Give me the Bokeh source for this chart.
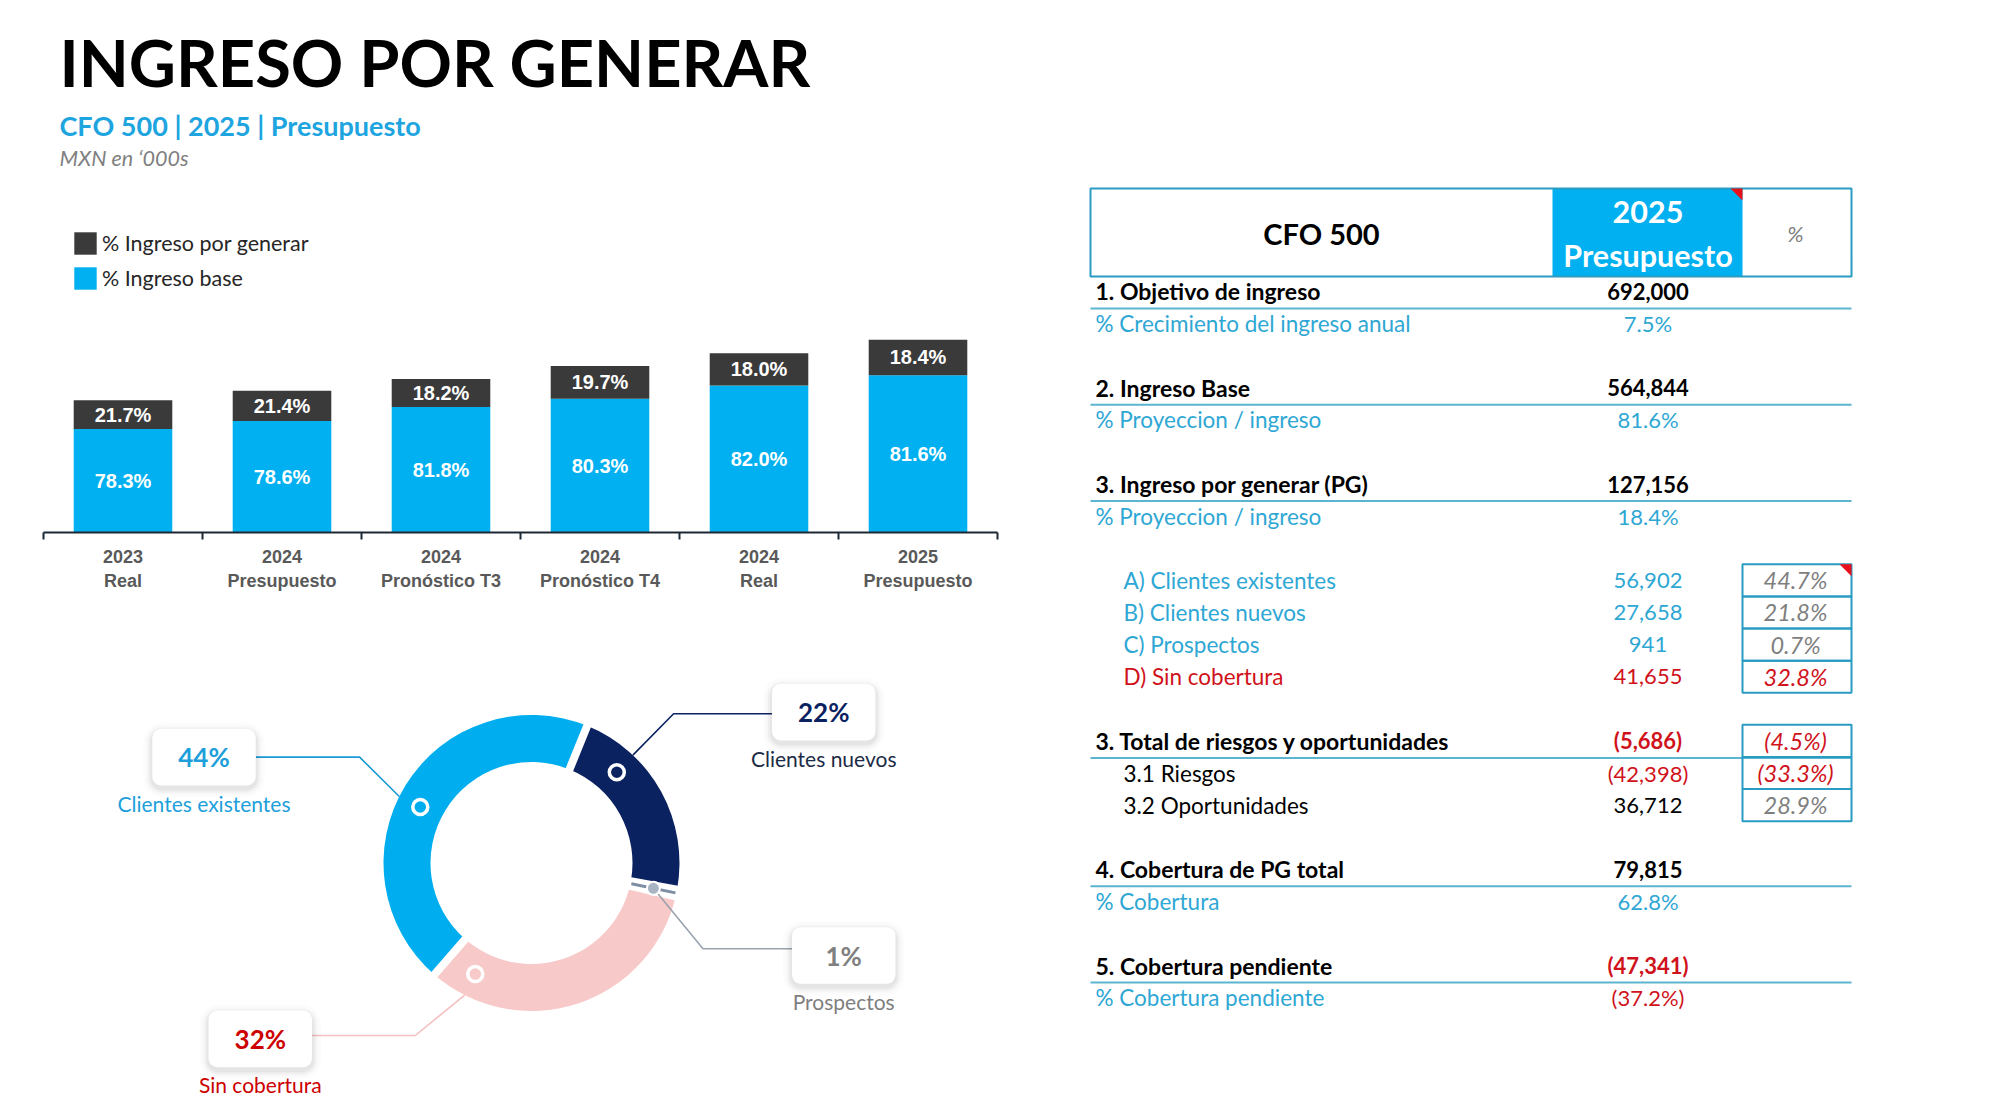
import numpy as np
from bokeh.plotting import figure
from bokeh.models import Range1d, FixedTicker, Legend, LegendItem, ColumnDataSource
from bokeh.layouts import column, row
from bokeh.embed import file_html
from bokeh.resources import INLINE
from bokeh.core.properties import value, field

# ---------------- DATA ----------------
title_text = "INGRESO POR GENERAR"
subtitle_text = "CFO 500 | 2025 | Presupuesto"
units_text = "MXN en \u2018000s"

bar_years = ["2023", "2024", "2024", "2024", "2024", "2025"]
bar_kinds = ["Real", "Presupuesto", "Pronóstico T3", "Pronóstico T4", "Real", "Presupuesto"]
bar_totals = [475000, 509000, 551000, 598000, 643700, 692000]
pct_base = [78.3, 78.6, 81.8, 80.3, 82.0, 81.6]
pct_por_generar = [21.7, 21.4, 18.2, 19.7, 18.0, 18.4]
legend_names = ["% Ingreso por generar", "% Ingreso base"]

donut_names = ["Clientes existentes", "Clientes nuevos", "Prospectos", "Sin cobertura"]
donut_amounts = [56902, 27658, 941, 41655]
donut_shown_pct = [44, 22, 1, 32]

table_title = "CFO 500"
table_col_year = "2025"
table_col_name = "Presupuesto"
table_col_pct = "%"
table_row_index = [0, 1, 3, 4, 6, 7, 9, 10, 11, 12, 14, 15, 16, 18, 19, 21, 22]
table_labels = ["1. Objetivo de ingreso", "% Crecimiento del ingreso anual",
                "2. Ingreso Base", "% Proyeccion / ingreso",
                "3. Ingreso por generar (PG)", "% Proyeccion / ingreso",
                "A) Clientes existentes", "B) Clientes nuevos", "C) Prospectos", "D) Sin cobertura",
                "3. Total de riesgos y oportunidades", "3.1 Riesgos", "3.2 Oportunidades",
                "4. Cobertura de PG total", "% Cobertura",
                "5. Cobertura pendiente", "% Cobertura pendiente"]
table_values = [692000, 7.5, 564844, 81.6, 127156, 18.4, 56902, 27658, 941, 41655,
                -5686, -42398, 36712, 79815, 62.8, -47341, -37.2]
table_value_is_pct = [False, True, False, True, False, True, False, False, False, False,
                      False, False, False, False, True, False, True]
table_share = [None, None, None, None, None, None, 44.7, 21.8, 0.7, 32.8,
               -4.5, -33.3, 28.9, None, None, None, None]

# ---------------- STYLE ----------------
CYAN = "#00b0f0"
DARK = "#3a3a3a"
TEAL = "#2ea7d4"
RED = "#d0121b"
GRAY = "#7f7f7f"
LINE = "#5bb5d0"
BOX = "#2a9bc2"
NAVY = "#0b2261"
FONT = "Lato"
table_row_kind = ["h", "s", "h", "s", "h", "s", "i", "i", "i", "r", "h", "b", "b", "h", "s", "h", "s"]


def blank(w, h, xr, yr, **kw):
    opts = dict(min_border=0)
    opts.update(kw)
    p = figure(width=w, height=h, x_range=xr, y_range=yr, output_backend="svg",
               toolbar_location=None, **opts)
    p.axis.visible = False
    p.grid.visible = False
    p.outline_line_color = None
    p.background_fill_color = "white"
    p.border_fill_color = "white"
    return p


def fmt(v, pct):
    s = f"{abs(v):.1f}%" if pct else f"{abs(v):,.0f}"
    return f"({s})" if v < 0 else s


# ---------------- TITLE ----------------
pt_title = blank(2000, 178, Range1d(0, 2000), Range1d(178, 0))
pt_title.text(x=[59], y=[61], text=[title_text], text_font=value(FONT), text_font_style="bold",
              text_font_size="65px", text_color="black", text_baseline="middle")
pt_title.text(x=[59], y=[125], text=[subtitle_text], text_font=value(FONT), text_font_style="bold",
              text_font_size="27px", text_color="#1ea5df", text_baseline="middle")
pt_title.text(x=[59], y=[157], text=[units_text], text_font=value(FONT), text_font_style="italic",
              text_font_size="21.5px", text_color=GRAY, text_baseline="middle")

# ---------------- BAR CHART ----------------
n = len(bar_totals)
centers = [i + 0.5 for i in range(n)]
base_vals = [t * b / 100 for t, b in zip(bar_totals, pct_base)]
pg_vals = [t * g / 100 for t, g in zip(bar_totals, pct_por_generar)]
src = ColumnDataSource(dict(x=centers, base=base_vals, pg=pg_vals))

pb = figure(width=1078, height=440, x_range=Range1d(0, n), y_range=Range1d(0, 1192000),
            output_backend="svg", toolbar_location=None,
            min_border_left=43, min_border_right=81, min_border_top=22, min_border_bottom=86)
pb.grid.visible = False
pb.yaxis.visible = False
pb.outline_line_color = None
rs = pb.vbar_stack(["base", "pg"], x="x", width=0.62, source=src,
                   fill_color=[CYAN, DARK], line_color=None)

lab_src = ColumnDataSource(dict(
    x=centers + centers,
    y=[b / 2 for b in base_vals] + [b + g / 2 for b, g in zip(base_vals, pg_vals)],
    t=[f"{v:.1f}%" for v in pct_base] + [f"{v:.1f}%" for v in pct_por_generar]))
pb.text(x="x", y="y", text="t", source=lab_src, text_font=value("Liberation Sans"),
        text_font_style="bold", text_font_size="20px", text_color="white",
        text_align="center", text_baseline="middle")

ax = pb.xaxis[0]
ax.ticker = FixedTicker(ticks=centers, minor_ticks=list(range(n + 1)))
ax.major_label_overrides = {c: f"{y}\n{k}" for c, y, k in zip(centers, bar_years, bar_kinds)}
ax.axis_line_color = "#1c2833"
ax.axis_line_width = 2
ax.major_tick_out = 0
ax.major_tick_in = 0
ax.major_tick_line_color = None
ax.minor_tick_line_color = "#1c2833"
ax.minor_tick_line_width = 2
ax.minor_tick_out = 7
ax.minor_tick_in = 0
ax.major_label_standoff = 7
ax.major_label_text_font = "Liberation Sans"
ax.major_label_text_font_style = "bold"
ax.major_label_text_font_size = "18px"
ax.major_label_text_color = "#595959"

legend = Legend(items=[LegendItem(label=legend_names[0], renderers=[rs[1]]),
                       LegendItem(label=legend_names[1], renderers=[rs[0]])],
                location=(28, 240), glyph_width=28, glyph_height=28, label_height=28,
                spacing=7, padding=0, margin=0, label_standoff=3,
                label_text_font=FONT, label_text_font_size="21.5px", label_text_color="#262626",
                border_line_color=None, background_fill_alpha=0)
pb.add_layout(legend)

# ---------------- DONUT ----------------
DONUT_START = 221.0
R_IN, R_OUT, R_MID = 101, 148, 124.5
seg_colors = ["#00aeef", NAVY, "#8ea0b4", "#f8c9c9"]
marker_frac = [0.47, 0.27, 0.5, 0.88]
label_box_center = [(-327.5, 105.9), (292.2, 150.9), (312.2, -92.5), (-271.2, -175.9)]
leader_elbow = [(-171.9, 105.9), (142.1, 149.2), (171.5, -85.8), (-116.2, -172.5)]
leader_colors = ["#1a9ad6", NAVY, "#9aa3ad", "#f4c0c0"]
pct_colors = ["#1e9fdb", NAVY, GRAY, "#cc0000"]
name_colors = ["#1e9fdb", "#1c2b45", GRAY, "#cc0000"]
BOX_W, BOX_H = 103.5, 56.7

# frame spans page x 43..997 (aligned with bar chart), y 618..1096
pdn = blank(1078, 478, Range1d(-488, 466), Range1d(-233.5, 244.5),
            min_border_left=43, min_border_right=81, min_border_top=0, min_border_bottom=0)
amts = np.array(donut_amounts, float)
fr = amts / amts.sum()
cum = np.concatenate([[0.0], np.cumsum(fr)])
a0 = DONUT_START + 360 * cum[:-1]
a1 = DONUT_START + 360 * cum[1:]


def std(a):
    return np.deg2rad(90 - np.asarray(a))


def polar(r, a):
    a = np.deg2rad(np.asarray(a))
    return r * np.sin(a), r * np.cos(a)


pdn.annular_wedge(x=0, y=0, inner_radius=R_IN, outer_radius=R_OUT,
                  start_angle=std(a0), end_angle=std(a1), direction="clock",
                  fill_color=seg_colors, line_color=None)
rx0, ry0 = polar(R_IN - 3, a0)
rx1, ry1 = polar(R_OUT + 3, a0)
pdn.segment(x0=rx0, y0=ry0, x1=rx1, y1=ry1, line_color="white", line_width=8)
mid_p = (a0[2] + a1[2]) / 2
px0, py0 = polar(R_IN + 1, mid_p)
px1, py1 = polar(R_OUT - 1, mid_p)
pdn.segment(x0=[px0], y0=[py0], x1=[px1], y1=[py1], line_color="#7d8ea3", line_width=3)

mk_ang = a0 + np.array(marker_frac) * (a1 - a0)
mx, my = polar(R_MID, mk_ang)
ox, oy = polar(R_OUT, mk_ang)

# leaders
for i in range(4):
    sx, sy = (mx[i], my[i]) if i == 2 else (ox[i], oy[i])
    ex, ey = leader_elbow[i]
    bx, by = label_box_center[i]
    edge = bx + BOX_W / 2 if bx < 0 else bx - BOX_W / 2
    pdn.line(x=[sx, ex, edge], y=[sy, ey, ey], line_color=leader_colors[i], line_width=1.6)

ring_idx = [0, 1, 3]
pdn.scatter(x=[mx[i] for i in ring_idx], y=[my[i] for i in ring_idx], size=15,
            fill_color=[seg_colors[i] for i in ring_idx], line_color="white", line_width=3.5)
pdn.scatter(x=[mx[2]], y=[my[2]], size=13, fill_color="#a9b5c3", line_color="white", line_width=2)

# label boxes
bxs = np.array([c[0] for c in label_box_center])
bys = np.array([c[1] for c in label_box_center])
for grow, alpha in [(9, 0.012), (6, 0.02), (4, 0.03), (2, 0.04)]:
    pdn.quad(left=bxs - BOX_W / 2 - grow, right=bxs + BOX_W / 2 + grow,
             top=bys + BOX_H / 2 + grow - 3, bottom=bys - BOX_H / 2 - grow - 3,
             fill_color="black", fill_alpha=alpha, line_color=None, border_radius=10 + grow)
pdn.quad(left=bxs - BOX_W / 2, right=bxs + BOX_W / 2, top=bys + BOX_H / 2, bottom=bys - BOX_H / 2,
         fill_color="white", line_color=None, border_radius=9)
pdn.text(x=bxs, y=bys, text=[f"{v}%" for v in donut_shown_pct], text_font=value(FONT),
         text_font_style="bold", text_font_size="26px", text_color=pct_colors,
         text_align="center", text_baseline="middle")
pdn.text(x=bxs, y=bys - 46, text=donut_names, text_font=value(FONT),
         text_font_size="21px", text_color=name_colors,
         text_align="center", text_baseline="middle")

# ---------------- TABLE ----------------
# row k centre at page y = 291 + 32.1 k
ptab = blank(922, 920, Range1d(1078, 2000), Range1d(25.14, -3.52))
X_L, X_R, X_SPLIT = 1090, 1851, 1742
X_BLUE0 = 1552
X_LAB0, X_LAB1 = 1095, 1123
X_VAL, X_PCT = 1647.5, 1795
H_TOP, H_BOT = -3.21, -0.467
kind_x = {"h": X_LAB0, "s": X_LAB0, "i": X_LAB1, "r": X_LAB1, "b": X_LAB1}
kind_color = {"h": "black", "s": TEAL, "i": TEAL, "r": RED, "b": "black"}
kind_style = {"h": "bold", "s": "normal", "i": "normal", "r": "normal", "b": "normal"}
kind_size = {"h": "23px", "s": "22.5px", "i": "22.5px", "r": "22.5px", "b": "22.5px"}

# header
ptab.quad(left=[X_BLUE0], right=[X_SPLIT], top=[H_TOP], bottom=[H_BOT], fill_color=CYAN, line_color=None)
ptab.quad(left=[X_L], right=[X_R], top=[H_TOP], bottom=[H_BOT], fill_alpha=0, line_color=BOX, line_width=2)
tri = 12 / 32.1
ptab.patch(x=[X_SPLIT - 12, X_SPLIT, X_SPLIT], y=[H_TOP, H_TOP, H_TOP + tri], fill_color="#e8101a", line_color=None)
ptab.text(x=[(X_L + X_BLUE0) / 2], y=[-1.80], text=[table_title], text_font=value(FONT),
          text_font_style="bold", text_font_size="29px", text_color="black",
          text_align="center", text_baseline="middle")
ptab.text(x=[X_VAL, X_VAL], y=[-2.47, -1.15], text=[table_col_year, table_col_name], text_font=value(FONT),
          text_font_style="bold", text_font_size="30.5px", text_color="white",
          text_align="center", text_baseline="middle")
ptab.text(x=[X_PCT], y=[-1.80], text=[table_col_pct], text_font=value(FONT),
          text_font_style="italic", text_font_size="22px", text_color=GRAY,
          text_align="center", text_baseline="middle")

# separator lines
line_rows = [k for k, kd in zip(table_row_index, table_row_kind) if kd == "h"]
ptab.segment(x0=[X_L] * len(line_rows), x1=[X_R] * len(line_rows),
             y0=[k + 0.53 for k in line_rows], y1=[k + 0.53 for k in line_rows],
             line_color=LINE, line_width=2)

# labels and values
lab = dict(x=[], y=[], t=[], c=[], s=[], z=[])
val = dict(x=[], y=[], t=[], c=[], s=[])
shr = dict(x=[], y=[], t=[], c=[])
box_rows = []
for k, label, v, ispct, sh, kd in zip(table_row_index, table_labels, table_values,
                                       table_value_is_pct, table_share, table_row_kind):
    lab["x"].append(kind_x[kd]); lab["y"].append(k); lab["t"].append(label)
    lab["c"].append(kind_color[kd]); lab["s"].append(kind_style[kd]); lab["z"].append(kind_size[kd])
    val["x"].append(X_VAL); val["y"].append(k); val["t"].append(fmt(v, ispct))
    val["c"].append(RED if v < 0 else kind_color[kd]); val["s"].append(kind_style[kd])
    if sh is not None:
        box_rows.append(k)
        shr["x"].append(X_PCT); shr["y"].append(k); shr["t"].append(fmt(sh, True))
        shr["c"].append(RED if (sh < 0 or kd == "r") else GRAY)

ptab.quad(left=[X_SPLIT] * len(box_rows), right=[X_R] * len(box_rows),
          top=[k - 0.5 for k in box_rows], bottom=[k + 0.5 for k in box_rows],
          fill_alpha=0, line_color=BOX, line_width=2)
ptab.patch(x=[X_R - 12, X_R, X_R], y=[box_rows[0] - 0.5, box_rows[0] - 0.5, box_rows[0] - 0.5 + tri],
           fill_color="#e8101a", line_color=None)

ptab.text(x="x", y="y", text="t", source=ColumnDataSource(lab), text_font=value(FONT),
          text_font_style=field("s"), text_font_size=field("z"), text_color="c",
          text_align="left", text_baseline="middle")
ptab.text(x="x", y="y", text="t", source=ColumnDataSource(val), text_font=value(FONT),
          text_font_style=field("s"), text_font_size="22px", text_color="c",
          text_align="center", text_baseline="middle")
ptab.text(x="x", y="y", text="t", source=ColumnDataSource(shr), text_font=value(FONT),
          text_font_style="italic", text_font_size="23.5px", text_color="c",
          text_align="center", text_baseline="middle")

layout = column(pt_title, row(column(pb, pdn), ptab))
open("out.html", "w").write(file_html(layout, INLINE))
